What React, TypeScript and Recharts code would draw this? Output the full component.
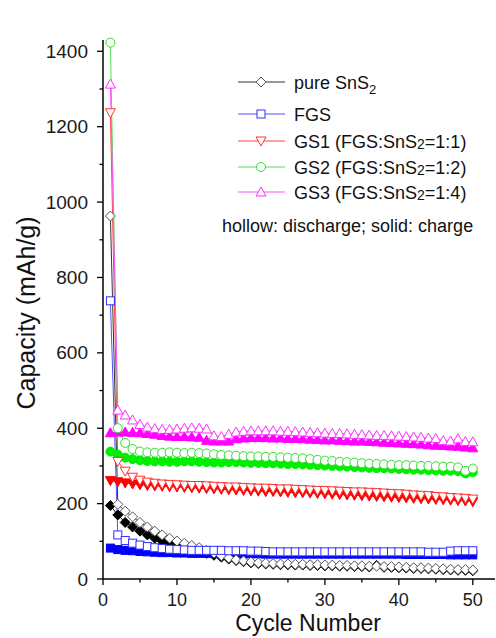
import { Line, LineChart, XAxis, YAxis } from "recharts";

const CYCLES = [
  1, 2, 3, 4, 5, 6, 7, 8, 9, 10, 11, 12, 13, 14, 15, 16, 17, 18, 19, 20, 21, 22, 23, 24, 25,
  26, 27, 28, 29, 30, 31, 32, 33, 34, 35, 36, 37, 38, 39, 40, 41, 42, 43, 44, 45, 46, 47, 48, 49, 50,
];

// pure SnS2
const SNS_DIS = [
  963, 198, 180, 165, 150, 138, 127, 117, 108, 101, 95, 89, 83, 76, 69, 62, 56, 51, 48, 45, 43, 42, 41, 40, 40,
  39, 39, 38, 38, 37, 37, 36, 36, 35, 35, 34, 34, 33, 33, 32, 31, 30, 30, 29, 28, 27, 26, 25, 25, 24,
];
const SNS_CHG = [
  195, 170, 150, 138, 127, 117, 108, 100, 94, 88, 83, 78, 73, 68, 63, 58, 53, 49, 46, 43, 41, 40, 39, 38, 38,
  37, 37, 36, 36, 35, 35, 34, 34, 33, 33, 32, 36, 31, 31, 30, 29, 28, 28, 27, 26, 25, 24, 23, 23, 22,
];
// FGS
const FGS_DIS = [
  738, 117, 102, 95, 90, 86, 83, 81, 79, 78, 77, 76, 76, 76, 76, 76, 75, 75, 75, 74, 74, 73, 72, 72, 72,
  72, 72, 72, 72, 72, 72, 72, 72, 72, 72, 72, 72, 72, 72, 72, 72, 72, 72, 71, 71, 71, 74, 75, 75, 75,
];
const FGS_CHG = [
  82, 78, 76, 75, 73, 72, 71, 70, 70, 69, 69, 68, 68, 68, 68, 67, 67, 67, 67, 67, 67, 66, 66, 66, 66,
  66, 66, 66, 66, 66, 66, 66, 66, 66, 66, 66, 66, 66, 66, 66, 65, 65, 65, 65, 65, 65, 64, 64, 64, 64,
];
// GS1 (1:1)
const GS1_DIS = [
  1237, 312, 286, 270, 262, 257, 254, 252, 251, 250, 249, 248, 248, 247, 246, 245, 244, 244, 243, 242, 241, 241, 240, 239, 239,
  238, 237, 236, 235, 235, 234, 233, 232, 231, 231, 230, 229, 228, 227, 226, 225, 223, 222, 221, 219, 218, 216, 215, 214, 212,
];
const GS1_CHG = [
  261, 258, 255, 252, 250, 248, 247, 246, 245, 244, 243, 242, 241, 240, 239, 238, 237, 236, 235, 234, 233, 232, 232, 231, 230,
  229, 229, 228, 227, 226, 225, 224, 223, 222, 221, 220, 219, 218, 217, 216, 215, 214, 213, 212, 211, 210, 209, 208, 207, 205,
];
// GS2 (1:2)
const GS2_DIS = [
  1423, 400, 361, 345, 338, 336, 335, 335, 336, 335, 334, 335, 334, 333, 331, 329, 328, 327, 326, 325, 325, 324, 324, 323, 322,
  321, 320, 318, 316, 314, 313, 311, 310, 309, 307, 306, 305, 304, 303, 302, 302, 301, 300, 300, 299, 298, 298, 296, 287, 293,
];
const GS2_CHG = [
  338, 330, 322, 318, 315, 313, 312, 312, 311, 311, 312, 312, 311, 310, 309, 309, 310, 310, 309, 308, 308, 307, 307, 306, 305,
  305, 304, 303, 302, 301, 300, 299, 298, 297, 296, 295, 294, 294, 293, 292, 291, 290, 290, 289, 288, 287, 287, 286, 280, 283,
];
// GS3 (1:4)
const GS3_DIS = [
  1313, 448, 435, 422, 410, 403, 399, 397, 397, 398, 400, 401, 400, 398, 380, 378, 384, 390, 392, 393, 393, 393, 393, 392, 392,
  391, 390, 389, 388, 387, 386, 386, 385, 384, 383, 382, 381, 381, 380, 379, 378, 377, 376, 374, 373, 367, 366, 372, 365, 364,
];
const GS3_CHG = [
  388, 390, 390, 389, 388, 386, 384, 381, 379, 378, 378, 377, 376, 368, 366, 366, 366, 372, 374, 375, 375, 375, 374, 374, 373,
  373, 372, 371, 370, 369, 369, 368, 367, 366, 366, 365, 364, 363, 362, 361, 360, 359, 358, 356, 355, 354, 353, 352, 350, 348,
];

const X_TICKS = [0, 5, 10, 15, 20, 25, 30, 35, 40, 45, 50];
const Y_TICKS = [0, 100, 200, 300, 400, 500, 600, 700, 800, 900, 1000, 1100, 1200, 1300, 1400];

type Shape = "diamond" | "square" | "triDown" | "circle" | "triUp";

const GROUPS: { name: string; sub?: string; tail?: string; shape: Shape; solid: string; hollow: string; line: string; dis: string; chg: string }[] = [
  { name: "pure SnS", sub: "2", shape: "diamond", solid: "#000000", hollow: "#555555", line: "#333333", dis: "snsDis", chg: "snsChg" },
  { name: "FGS", shape: "square", solid: "#0000ff", hollow: "#3030ff", line: "#5050ff", dis: "fgsDis", chg: "fgsChg" },
  { name: "GS1 (FGS:SnS", sub: "2", tail: "=1:1)", shape: "triDown", solid: "#ff0000", hollow: "#ff3030", line: "#ff4040", dis: "gs1Dis", chg: "gs1Chg" },
  { name: "GS2 (FGS:SnS", sub: "2", tail: "=1:2)", shape: "circle", solid: "#00ee00", hollow: "#30dd30", line: "#50e050", dis: "gs2Dis", chg: "gs2Chg" },
  { name: "GS3 (FGS:SnS", sub: "2", tail: "=1:4)", shape: "triUp", solid: "#ff00ff", hollow: "#ff30ff", line: "#ff50ff", dis: "gs3Dis", chg: "gs3Chg" },
];

const data = CYCLES.map((c, i) => ({
  cycle: c,
  snsDis: SNS_DIS[i],
  snsChg: SNS_CHG[i],
  fgsDis: FGS_DIS[i],
  fgsChg: FGS_CHG[i],
  gs1Dis: GS1_DIS[i],
  gs1Chg: GS1_CHG[i],
  gs2Dis: GS2_DIS[i],
  gs2Chg: GS2_CHG[i],
  gs3Dis: GS3_DIS[i],
  gs3Chg: GS3_CHG[i],
}));

const FONT = "'Liberation Sans', Arial, sans-serif";

function Marker({ cx, cy, shape, fill, stroke }: { cx: number; cy: number; shape: Shape; fill: string; stroke: string }) {
  const p = { fill, stroke, strokeWidth: 1 };
  if (shape === "diamond") return <polygon points={`${cx},${cy - 5} ${cx + 5},${cy} ${cx},${cy + 5} ${cx - 5},${cy}`} {...p} />;
  if (shape === "square") return <rect x={cx - 4} y={cy - 4} width={8} height={8} {...p} />;
  if (shape === "triDown") return <polygon points={`${cx - 5},${cy - 4} ${cx + 5},${cy - 4} ${cx},${cy + 5}`} {...p} />;
  if (shape === "triUp") return <polygon points={`${cx - 5},${cy + 4} ${cx + 5},${cy + 4} ${cx},${cy - 5}`} {...p} />;
  return <circle cx={cx} cy={cy} r={4.5} {...p} />;
}

function YTick({ x, y, payload }: any) {
  const v = payload.value;
  const major = v % 200 === 0;
  return (
    <g>
      <line x1={x - (major ? 6 : 3.5)} x2={x} y1={y} y2={y} stroke="#000" strokeWidth={1.3} />
      {major && (
        <text x={x - 15} y={y + 6.5} textAnchor="end" fontSize={19} fontFamily={FONT} fill="#1a1a1a">
          {v}
        </text>
      )}
    </g>
  );
}

function XTick({ x, y, payload }: any) {
  const v = payload.value;
  const major = v % 10 === 0;
  return (
    <g>
      <line x1={x} x2={x} y1={y} y2={y + (major ? 6 : 3.5)} stroke="#000" strokeWidth={1.3} />
      {major && (
        <text x={x} y={y + 27} textAnchor="middle" fontSize={18} fontFamily={FONT} fill="#1a1a1a">
          {v}
        </text>
      )}
    </g>
  );
}

const LEG_Y = [82, 114, 141, 167, 192];

export default function App() {
  return (
    <div style={{ position: "absolute", left: 0, top: 0, width: 496, height: 638, background: "#fff" }}>
      <LineChart width={496} height={638} data={data} margin={{ top: 40, right: 1, bottom: 0, left: 0 }}>
        <XAxis
          dataKey="cycle"
          type="number"
          domain={[0, 53]}
          ticks={X_TICKS}
          interval={0}
          tickSize={0}
          tickMargin={0}
          tickLine={false}
          tick={<XTick />}
          height={59}
          axisLine={{ stroke: "#000", strokeWidth: 1.5 }}
        />
        <YAxis
          type="number"
          domain={[0, 1430]}
          ticks={Y_TICKS}
          interval={0}
          tickSize={0}
          tickMargin={0}
          tickLine={false}
          tick={<YTick />}
          width={103}
          axisLine={{ stroke: "#000", strokeWidth: 1.5 }}
        />
        {GROUPS.map((g) => (
          <Line
            key={g.chg}
            dataKey={g.chg}
            type="linear"
            stroke={g.solid}
            strokeWidth={1}
            isAnimationActive={false}
            activeDot={false}
            dot={(p: any) => <Marker key={p.index} cx={p.cx} cy={p.cy} shape={g.shape} fill={g.solid} stroke={g.solid} />}
          />
        ))}
        {GROUPS.map((g) => (
          <Line
            key={g.dis}
            dataKey={g.dis}
            type="linear"
            stroke={g.line}
            strokeWidth={1}
            isAnimationActive={false}
            activeDot={false}
            dot={(p: any) => <Marker key={p.index} cx={p.cx} cy={p.cy} shape={g.shape} fill="#fff" stroke={g.hollow} />}
          />
        ))}
      </LineChart>
      <svg width={496} height={638} style={{ position: "absolute", left: 0, top: 0, pointerEvents: "none" }} fontFamily={FONT}>
        <text x={35} y={313} transform="rotate(-90 35 313)" textAnchor="middle" fontSize={25} fill="#111">
          Capacity (mAh/g)
        </text>
        <text x={308} y={631} textAnchor="middle" fontSize={23} fill="#111">
          Cycle Number
        </text>
        {GROUPS.map((g, i) => (
          <g key={g.dis}>
            <line x1={238} x2={285} y1={LEG_Y[i]} y2={LEG_Y[i]} stroke={g.line} strokeWidth={1} />
            <Marker cx={261} cy={LEG_Y[i]} shape={g.shape} fill="#fff" stroke={g.hollow} />
            <text x={294} y={LEG_Y[i] + 7} fontSize={18} fill="#111">
              {g.name}
              {g.sub && (
                <tspan fontSize={i === 0 ? 13 : 14} dy={i === 0 ? 5 : 1}>
                  {g.sub}
                </tspan>
              )}
              {g.tail && <tspan dy={-1}>{g.tail}</tspan>}
            </text>
          </g>
        ))}
        <text x={222} y={232} fontSize={18} fill="#111">
          hollow: discharge; solid: charge
        </text>
      </svg>
    </div>
  );
}
